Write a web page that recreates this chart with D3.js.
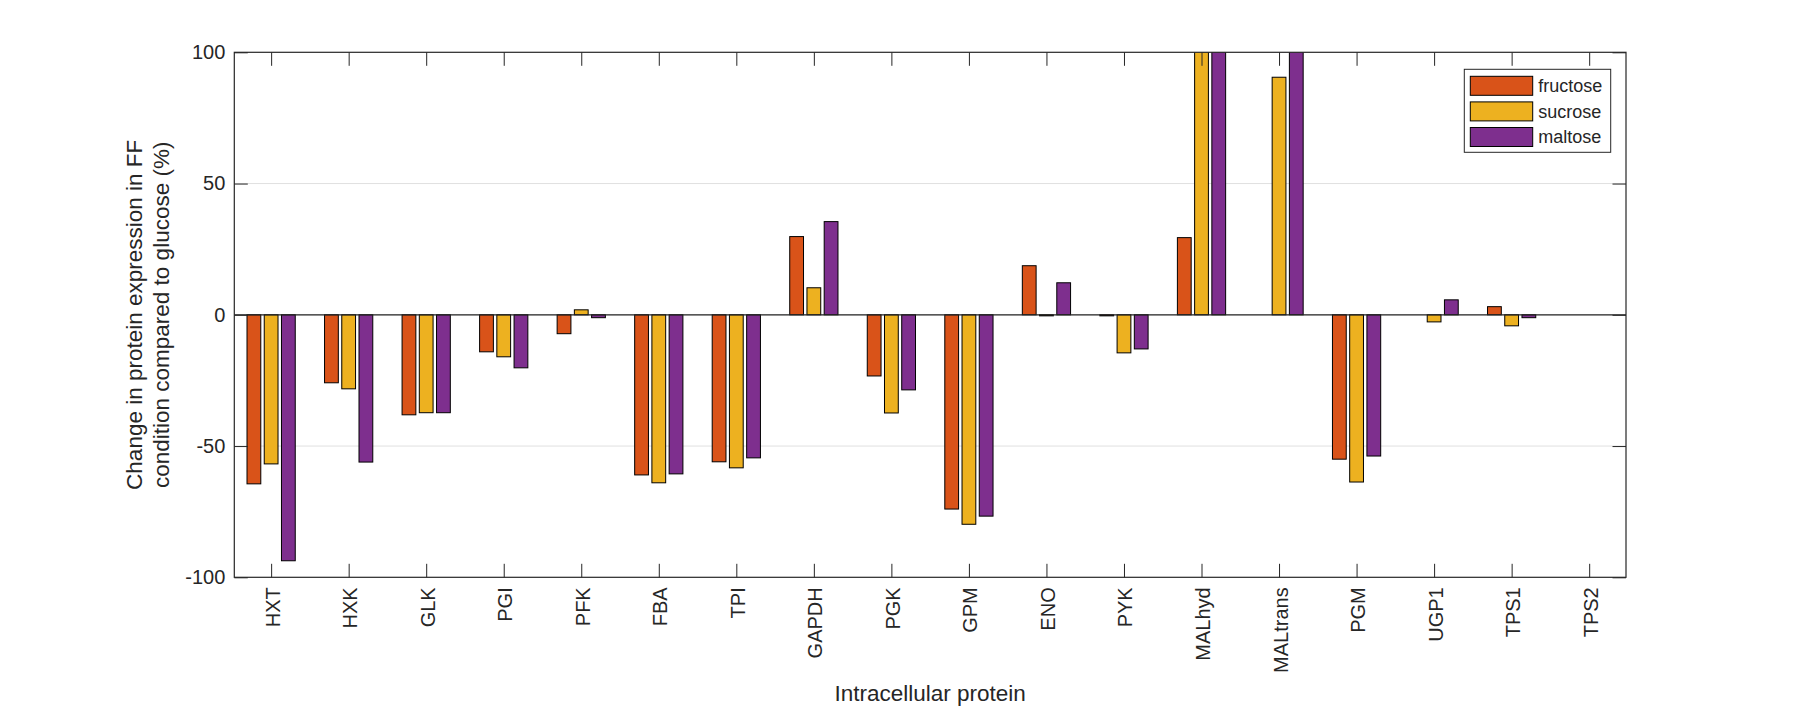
<!DOCTYPE html>
<html>
<head>
<meta charset="utf-8">
<script src="https://cdn.jsdelivr.net/npm/d3@7"></script>
<style>
  body { margin: 0; background: #fff; }
  text { font-family: "Liberation Sans", Arial, Helvetica, sans-serif; fill: #262626; }
</style>
</head>
<body>
<div id="chart"></div>
<script>
// values (bars above 100 are clipped by the axes)
const categories = ["HXT", "HXK", "GLK", "PGI", "PFK", "FBA", "TPI", "GAPDH", "PGK",
    "GPM", "ENO", "PYK", "MALhyd", "MALtrans", "PGM", "UGP1", "TPS1", "TPS2"];
const seriesNames = ["fructose", "sucrose", "maltose"];
const fructose = [-64.4, -25.9, -38.1, -14.1, -7.2, -61.0, -56.0, 29.8, -23.3,
    -74.0, 18.7, -0.4, 29.4, 0, -55.0, 0, 3.1, 0];
const sucrose = [-56.8, -28.2, -37.3, -16.0, 1.9, -64.0, -58.3, 10.3, -37.4,
    -79.8, -0.4, -14.5, 130, 90.5, -63.7, -2.7, -4.2, 0];
const maltose = [-93.7, -56.1, -37.3, -20.2, -1.1, -60.6, -54.5, 35.5, -28.6,
    -76.7, 12.2, -13.0, 130, 130, -53.8, 5.7, -1.1, 0];
const yTicks = [-100, -50, 0, 50, 100];
const colors = ["#D95319", "#EDB120", "#7E2F8E"];

function main() {
    const canvasWidth = 1798;
    const canvasHeight = 708;
    const left = 234.3, right = 1626, top = 52.3, bottom = 577.3;
    const tickLen = 13.5;
    const axisColor = "#262626";

    const svg = d3.select("#chart").append("svg")
        .attr("width", canvasWidth)
        .attr("height", canvasHeight)

    svg.append("rect")
        .attr("width", canvasWidth)
        .attr("height", canvasHeight)
        .attr("fill", "#fff")

    const x = d3.scalePoint().domain(categories).range([left, right]).padding(0.475)
    const step = x.step()
    const sub = d3.scaleBand().domain(seriesNames)
        .range([-step / 3, step / 3])
        .paddingInner(0.2)
        .paddingOuter(0.1)
    const y = d3.scaleLinear().domain([-100, 100]).range([bottom, top])
    const color = d3.scaleOrdinal().domain(seriesNames).range(colors)

    svg.append("defs").append("clipPath")
        .attr("id", "plotClip")
        .append("rect")
        .attr("x", left).attr("y", top)
        .attr("width", right - left).attr("height", bottom - top)

    // grid
    svg.append("g")
        .selectAll("line")
        .data(yTicks.filter(d => d > -100 && d < 100))
        .enter().append("line")
        .attr("x1", left).attr("x2", right)
        .attr("y1", d => y(d)).attr("y2", d => y(d))
        .attr("stroke", "#e0e0e0")
        .attr("stroke-width", 1)

    // bars
    const table = seriesNames.map((name, s) => {
        const vals = [fructose, sucrose, maltose][s];
        return categories.map((c, i) => ({ series: name, cat: c, value: vals[i] }));
    });

    svg.append("g")
        .attr("clip-path", "url(#plotClip)")
        .selectAll("g")
        .data(table)
        .enter().append("g")
        .attr("fill", d => color(d[0].series))
        .selectAll("rect")
        .data(d => d)
        .enter().append("rect")
        .attr("x", d => x(d.cat) + sub(d.series))
        .attr("width", sub.bandwidth())
        .attr("y", d => y(Math.max(0, d.value)))
        .attr("height", d => Math.abs(y(d.value) - y(0)))
        .attr("stroke", "#000")
        .attr("stroke-width", 1)

    // baseline
    svg.append("line")
        .attr("x1", left).attr("x2", right)
        .attr("y1", y(0)).attr("y2", y(0))
        .attr("stroke", axisColor)
        .attr("stroke-width", 1.2)

    // axes
    const yAxis = svg.append("g")
        .attr("transform", `translate(${left},0)`)
        .call(d3.axisLeft(y).tickValues(yTicks).tickFormat(d => String(d))
            .tickSizeInner(-tickLen).tickSizeOuter(0).tickPadding(9))
    yAxis.select(".domain").remove()
    yAxis.selectAll("line").attr("stroke", axisColor)
    yAxis.selectAll("text").attr("font-size", 20).attr("font-family", null).attr("fill", axisColor)

    const yAxisR = svg.append("g")
        .attr("transform", `translate(${right},0)`)
        .call(d3.axisRight(y).tickValues(yTicks).tickSizeInner(-tickLen).tickSizeOuter(0).tickFormat(""))
    yAxisR.select(".domain").remove()
    yAxisR.selectAll("line").attr("stroke", axisColor)

    const xAxis = svg.append("g")
        .attr("transform", `translate(0,${bottom})`)
        .call(d3.axisBottom(x).tickSizeInner(-tickLen).tickSizeOuter(0))
    xAxis.select(".domain").remove()
    xAxis.selectAll("line").attr("stroke", axisColor)
    xAxis.selectAll("text")
        .attr("font-size", 20)
        .attr("font-family", null)
        .attr("fill", axisColor)
        .attr("transform", "rotate(-90)")
        .attr("x", -10)
        .attr("y", 1)
        .attr("dy", "0.35em")
        .attr("text-anchor", "end")

    const xAxisT = svg.append("g")
        .attr("transform", `translate(0,${top})`)
        .call(d3.axisTop(x).tickSizeInner(-tickLen).tickSizeOuter(0).tickFormat(""))
    xAxisT.select(".domain").remove()
    xAxisT.selectAll("line").attr("stroke", axisColor)

    svg.append("rect")
        .attr("x", left).attr("y", top)
        .attr("width", right - left).attr("height", bottom - top)
        .attr("fill", "none")
        .attr("stroke", axisColor)
        .attr("stroke-width", 1.2)

    // axis titles
    svg.append("text")
        .attr("x", (left + right) / 2)
        .attr("y", 701)
        .attr("text-anchor", "middle")
        .attr("font-size", 22.5)
        .text("Intracellular protein")

    const yTitle = svg.append("text")
        .attr("transform", `translate(142,${(top + bottom) / 2}) rotate(-90)`)
        .attr("text-anchor", "middle")
        .attr("font-size", 22.5)
    yTitle.append("tspan").attr("x", 0).attr("y", 0).text("Change in protein expression in FF")
    yTitle.append("tspan").attr("x", 0).attr("y", 27).text("condition compared to glucose (%)")

    // legend
    const legend = svg.append("g").attr("class", "legend")
    legend.append("rect")
        .attr("x", 1464.3).attr("y", 69.3)
        .attr("width", 146.4).attr("height", 83)
        .attr("fill", "#fff")
        .attr("stroke", axisColor)
        .attr("stroke-width", 1)

    const rows = legend.selectAll("g.row")
        .data(seriesNames)
        .enter().append("g")
        .attr("class", "row")
        .attr("transform", (d, i) => `translate(1470.3,${76.3 + i * 25.6})`)

    rows.append("rect")
        .attr("width", 62.4).attr("height", 19)
        .attr("fill", d => color(d))
        .attr("stroke", "#000")
        .attr("stroke-width", 1)

    rows.append("text")
        .attr("x", 68)
        .attr("y", 9.5)
        .attr("dy", "0.35em")
        .attr("font-size", 18)
        .attr("fill", "#000")
        .text(d => d)
}
main();
</script>
</body>
</html>
